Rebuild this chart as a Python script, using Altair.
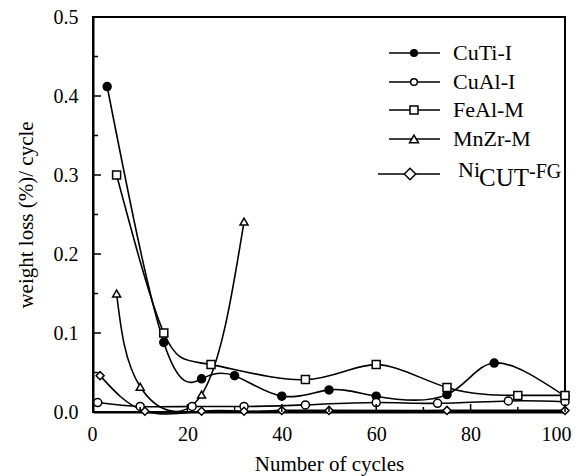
import altair as alt
import pandas as pd

# ---- data ----
series_names = ["CuTi-I", "CuAl-I", "FeAl-M", "MnZr-M", "Ni_CUT-FG"]

cuti_x = [3, 15, 23, 30, 40, 50, 60, 75, 85, 100]
cuti_y = [0.412, 0.088, 0.042, 0.046, 0.020, 0.028, 0.020, 0.022, 0.062, 0.020]

cual_x = [1, 10, 21, 32, 45, 60, 73, 88, 100]
cual_y = [0.012, 0.007, 0.007, 0.007, 0.009, 0.012, 0.011, 0.014, 0.013]

feal_x = [5, 15, 25, 45, 60, 75, 90, 100]
feal_y = [0.300, 0.100, 0.060, 0.041, 0.060, 0.031, 0.021, 0.021]

mnzr_x = [5, 10, 23, 32]
mnzr_y = [0.150, 0.032, 0.022, 0.241]

ni_x = [1.5, 11, 23, 32, 40, 50, 75, 100]
ni_y = [0.046, 0.001, 0.001, 0.001, 0.002, 0.002, 0.002, 0.002]

x_major = [0, 20, 40, 60, 80, 100]
x_minor = [10, 30, 50, 70, 90]
y_major = [0.0, 0.1, 0.2, 0.3, 0.4, 0.5]
y_minor = [0.05, 0.15, 0.25, 0.35, 0.45]

legend_labels = ["CuTi-I", "CuAl-I", "FeAl-M", "MnZr-M"]
ni_label_parts = ["Ni", "CUT", "-FG"]

shapes = ["circle", "circle", "square", "triangle-up", "diamond"]
fills = ["black", "white", "white", "white", "white"]
sizes = [64, 64, 100, 120, 125]

FONT = "Liberation Serif"
W, H = 472, 395

rows = []
for name, xs_, ys_ in zip(series_names,
                          [cuti_x, cual_x, feal_x, mnzr_x, ni_x],
                          [cuti_y, cual_y, feal_y, mnzr_y, ni_y]):
    for i, (a, b) in enumerate(zip(xs_, ys_)):
        rows.append({"series": name, "cycles": a, "loss": b, "order": i})
df = pd.DataFrame(rows)

xs = alt.Scale(domain=[0, 100], nice=False)
ys = alt.Scale(domain=[0, 0.5], nice=False)

base = alt.Chart(df)

lines = base.mark_line(interpolate="natural", color="black", strokeWidth=1.6).encode(
    x=alt.X("cycles:Q", scale=xs,
            axis=alt.Axis(values=x_major, title="Number of cycles", format="d")),
    y=alt.Y("loss:Q", scale=ys,
            axis=alt.Axis(values=y_major, title="weight loss (%)/ cycle", format=".1f")),
    detail="series:N",
    order="order:Q",
)

points = base.mark_point(filled=True, stroke="black", strokeWidth=1.5, opacity=1).encode(
    x=alt.X("cycles:Q", scale=xs),
    y=alt.Y("loss:Q", scale=ys),
    shape=alt.Shape("series:N", scale=alt.Scale(domain=series_names, range=shapes), legend=None),
    fill=alt.Fill("series:N", scale=alt.Scale(domain=series_names, range=fills), legend=None),
    size=alt.Size("series:N", scale=alt.Scale(domain=series_names, range=sizes), legend=None),
)

# inward ticks
xt_major = alt.Chart(pd.DataFrame({"t": x_major})).mark_rule(color="black", strokeWidth=1.5).encode(
    x=alt.X("t:Q", scale=xs), y=alt.value(H), y2=alt.value(H - 8))
xt_minor = alt.Chart(pd.DataFrame({"t": x_minor})).mark_rule(color="black", strokeWidth=1.5).encode(
    x=alt.X("t:Q", scale=xs), y=alt.value(H), y2=alt.value(H - 5))
yt_major = alt.Chart(pd.DataFrame({"t": y_major})).mark_rule(color="black", strokeWidth=1.5).encode(
    y=alt.Y("t:Q", scale=ys), x=alt.value(0), x2=alt.value(8))
yt_minor = alt.Chart(pd.DataFrame({"t": y_minor})).mark_rule(color="black", strokeWidth=1.5).encode(
    y=alt.Y("t:Q", scale=ys), x=alt.value(0), x2=alt.value(5))

# manual legend
legend_layers = []
row_y = [36, 65, 93, 122, 157]
leg_sizes = [45, 45, 64, 80, 130]
for i, name in enumerate(series_names):
    yy = row_y[i]
    x1 = 296 if i < 4 else 285
    xm = 321 if i < 4 else 317
    dummy = pd.DataFrame({"label": [name]})
    legend_layers.append(alt.Chart(dummy).mark_rule(color="black", strokeWidth=1.5).encode(
        x=alt.value(x1), x2=alt.value(347), y=alt.value(yy)))
    legend_layers.append(alt.Chart(dummy).mark_point(
        shape=shapes[i], fill=fills[i], filled=True, stroke="black", strokeWidth=1.5,
        size=leg_sizes[i], opacity=1).encode(x=alt.value(xm), y=alt.value(yy)))

for i, lab in enumerate(legend_labels):
    legend_layers.append(alt.Chart(pd.DataFrame({"label": [lab]})).mark_text(
        font=FONT, fontSize=22, align="left", baseline="alphabetic", color="black").encode(
        x=alt.value(360), y=alt.value(row_y[i] + 7), text="label:N"))

ni_pos = [(365, 160, 22), (386, 169, 25), (436, 161, 20)]
for (px, py, fs), lab in zip(ni_pos, ni_label_parts):
    legend_layers.append(alt.Chart(pd.DataFrame({"label": [lab]})).mark_text(
        font=FONT, fontSize=fs, align="left", baseline="alphabetic", color="black").encode(
        x=alt.value(px), y=alt.value(py), text="label:N"))

chart = alt.layer(lines, points, xt_major, xt_minor, yt_major, yt_minor, *legend_layers).properties(
    width=W, height=H,
    autosize=alt.AutoSizeParams(type="none"),
    padding={"left": 85, "top": 9, "right": 7, "bottom": 64},
).configure_view(stroke="black", strokeWidth=2).configure_axis(
    grid=False, ticks=False, domainColor="black", domainWidth=2,
    labelFont=FONT, labelFontSize=20, labelColor="black",
    titleFont=FONT, titleFontSize=21, titleFontWeight="normal", titleColor="black",
).configure_axisX(labelPadding=12, titlePadding=9, labelFlush=True,
                  labelFlushOffset=6).configure_axisY(
    labelPadding=15, titlePadding=17, labelFlush=False)

chart.save("out.html", embed_options={"renderer": "svg", "actions": False})
